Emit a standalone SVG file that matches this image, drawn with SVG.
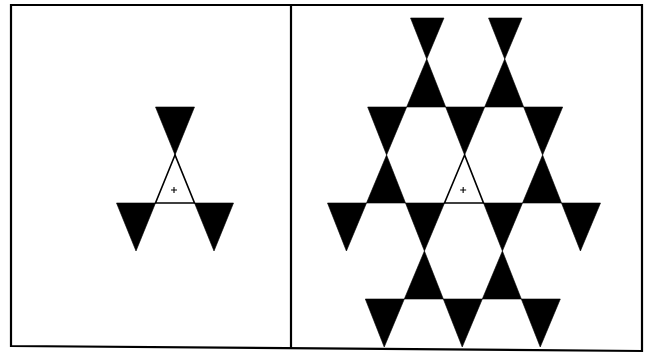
<svg xmlns="http://www.w3.org/2000/svg" width="645" height="355" viewBox="0 0 645 355">
<style>
.t{fill:#000;stroke:#000;stroke-width:0.6;stroke-linejoin:miter}
.w{fill:#fff;stroke:#000;stroke-width:1.6;stroke-linejoin:miter}
.f{fill:none;stroke:#000;stroke-width:2.2}
.p{stroke:#000;stroke-width:1.1;fill:none}
</style>
<rect width="645" height="355" fill="#fff"/>
<g id="frame">
<path class="f" d="M11,5 H642 V351 L11,346 Z"/>
<line class="f" x1="291" y1="5" x2="291" y2="349"/>
</g>
<g id="left-panel">
<polygon class="t" points="155.5,107 194.5,107 175,155"/>
<polygon class="w" points="175,155 155.5,203 194.5,203"/>
<polygon class="t" points="116.5,203 155.5,203 136,251"/>
<polygon class="t" points="194.5,203 233.5,203 214,251"/>
<path class="p" d="M171,190 H177 M174,187 V193"/>
</g>
<g id="right-panel" transform="translate(0,203) skewX(-0.7) translate(0,-203)">
<polygon class="t" points="408.3,18 441.7,18 425,59"/>
<polygon class="t" points="486.3,18 519.7,18 503,59"/>
<polygon class="t" points="425,59 405.5,107 444.5,107"/>
<polygon class="t" points="503,59 483.5,107 522.5,107"/>
<polygon class="t" points="366.5,107 405.5,107 386,155"/>
<polygon class="t" points="444.5,107 483.5,107 464,155"/>
<polygon class="t" points="522.5,107 561.5,107 542,155"/>
<polygon class="t" points="386,155 366.5,203 405.5,203"/>
<polygon class="w" points="464,155 444.5,203 483.5,203"/>
<polygon class="t" points="542,155 522.5,203 561.5,203"/>
<polygon class="t" points="327.5,203 366.5,203 347,251"/>
<polygon class="t" points="405.5,203 444.5,203 425,251"/>
<polygon class="t" points="483.5,203 522.5,203 503,251"/>
<polygon class="t" points="561.5,203 600.5,203 581,251"/>
<polygon class="t" points="425,251 405.5,299 444.5,299"/>
<polygon class="t" points="503,251 483.5,299 522.5,299"/>
<polygon class="t" points="366.5,299 405.5,299 386,347"/>
<polygon class="t" points="444.5,299 483.5,299 464,347"/>
<polygon class="t" points="522.5,299 561.5,299 542,347"/>
<path class="p" d="M460,190 H466 M463,187 V193"/>
</g>
</svg>
